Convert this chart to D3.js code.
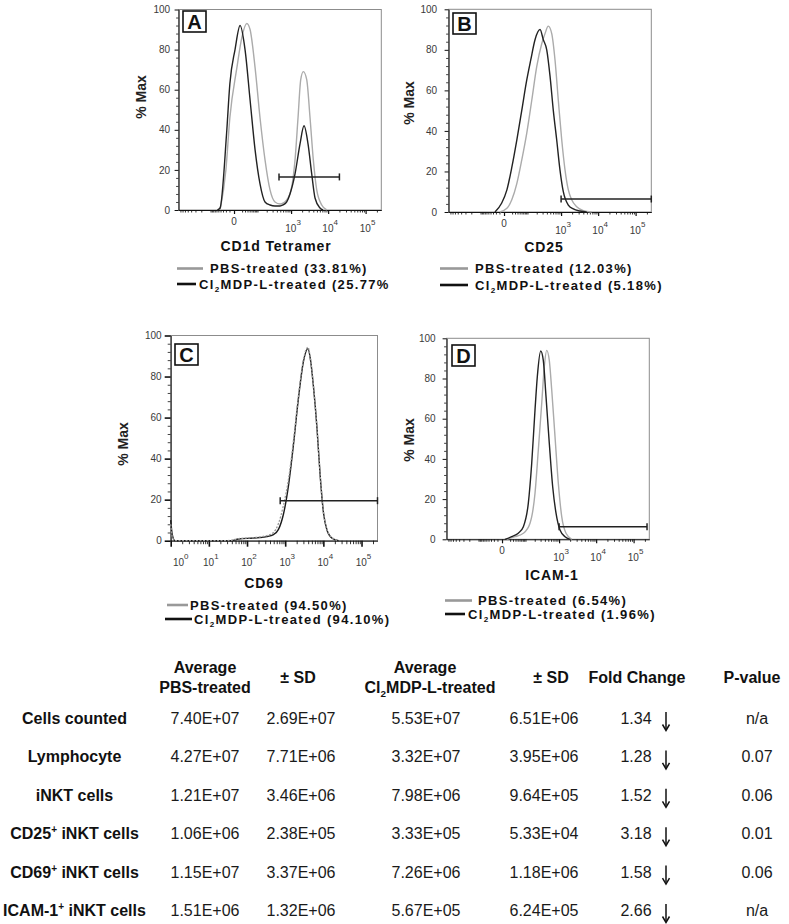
<!DOCTYPE html>
<html><head><meta charset="utf-8">
<script src="https://cdn.jsdelivr.net/npm/d3@7"></script>
<style>body{margin:0;background:#fff}svg{display:block}</style>
</head><body>
<svg id="c" width="789" height="924"></svg>
<script>
// ---------------- DATA ----------------
const yTickValues = [0, 20, 40, 60, 80, 100];
const biexTickValues = [0, 1e3, 1e4, 1e5];
const biexTickLabels = [["0", ""], ["10", "3"], ["10", "4"], ["10", "5"]];
const logTickValues = [1, 10, 100, 1e3, 1e4, 1e5];
const logTickLabels = [["10", "0"], ["10", "1"], ["10", "2"], ["10", "3"], ["10", "4"], ["10", "5"]];

// histograms: [fluorescence intensity, % Max]
const pbsA = [[-42,0],[-20,20],[-9,46],[6,71],[19,86],[37,93],[52,90],[82,71],[122,46],[177,25],[252,10],[353,4],[492,3],[757,5],[1042,11.6],[1282,25],[1547,46],[1832,65],[2155,69],[2660,65],[3268,46],[4005,25],[4942,10],[6730,2.5],[9160,0]];
const cl2A = [[-55,0],[-42,1],[-18,38],[-9,63],[2,80],[14,92],[30,80],[52,55],[82,30],[122,13],[177,4],[252,2.5],[353,2],[492,2],[597,2.5],[757,4],[933,8],[1282,18],[1752,33],[2250,42],[2884,33],[3627,18],[4450,6],[6055,1],[7290,0]];
const pbsB = [[-9,0],[6,1.8],[19,6],[37,14],[61,25.6],[94,38.8],[139,55],[200,71.7],[283,83],[353,88],[439,91.7],[549,88],[679,75],[839,55],[1042,35.5],[1282,20.7],[1578,10.9],[1947,6],[2660,2.6],[4005,0.7],[6730,0]];
const cl2B = [[-23,0],[-5,4.3],[6,10.9],[19,22],[37,35.5],[61,50],[94,65],[129,75],[177,85],[252,90],[315,85],[396,80],[492,67],[609,50],[757,35.5],[933,20.7],[1150,10],[1578,3.4],[2155,1.5],[3268,0.5],[4942,0]];
const pbsC = [[1,8],[1.1,2],[1.3,0],[30,0],[60,1],[147,1.5],[331,2.5],[493,4],[667,8.4],[902,17.3],[1222,30],[1652,49],[2234,71],[3020,88.5],[3945,94.3],[4530,89.5],[5535,75],[6790,55],[8300,31.5],[10120,13.5],[12420,5.5],[16830,1.5],[25060,0]];
const cl2C = [[1,10],[1.1,3],[1.3,0],[36,0],[60,0.8],[147,1.3],[331,2],[493,3],[667,5.5],[902,13],[1222,27],[1652,47],[2234,69.7],[3020,87.5],[3945,93.6],[4530,89],[5535,74.6],[6790,55.2],[8300,31],[10120,13.3],[12420,5.2],[16830,1.2],[25060,0]];
const pbsD = [[10,0],[38,1.3],[84,3],[142,8],[204,22.9],[257,44.4],[324,67.7],[385,85.9],[451,94],[534,89],[625,74.3],[772,51],[952,27.9],[1181,11.3],[1547,3],[2210,0]];
const cl2D = [[6,0],[25,1.3],[53,3],[84,6.3],[125,18],[161,37.8],[204,64.3],[240,81],[303,93.7],[360,89],[431,71],[534,47.8],[666,26],[823,13],[1060,4.6],[1454,1.3],[1985,0]];

// gates: [from, to, level %]
const gateA = [460, 20000, 16.5];
const gateB = [1000, 262144, 6.4];
const gateC = [740, 262144, 19.5];
const gateD = [1000, 228000, 6.3];

const panelLetters = ["A", "B", "C", "D"];
const axisTitles = ["CD1d Tetramer", "CD25", "CD69", "ICAM-1"];
const legendPBS = ["PBS-treated (33.81%)", "PBS-treated (12.03%)", "PBS-treated (94.50%)", "PBS-treated (6.54%)"];
const legendCl2 = ["Cl2MDP-L-treated (25.77%", "Cl2MDP-L-treated (5.18%)", "Cl2MDP-L-treated (94.10%)", "Cl2MDP-L-treated (1.96%)"];

// table
const rowLabels = [["Cells counted"], ["Lymphocyte"], ["iNKT cells"], ["CD25", "+", " iNKT cells"], ["CD69", "+", " iNKT cells"], ["ICAM-1", "+", " iNKT cells"]];
const avgPBS = ["7.40E+07", "4.27E+07", "1.21E+07", "1.06E+06", "1.15E+07", "1.51E+06"];
const sdPBS = ["2.69E+07", "7.71E+06", "3.46E+06", "2.38E+05", "3.37E+06", "1.32E+06"];
const avgCl2 = ["5.53E+07", "3.32E+07", "7.98E+06", "3.33E+05", "7.26E+06", "5.67E+05"];
const sdCl2 = ["6.51E+06", "3.95E+06", "9.64E+05", "5.33E+04", "1.18E+06", "6.24E+05"];
const foldChange = ["1.34", "1.28", "1.52", "3.18", "1.58", "2.66"];
const pValues = ["n/a", "0.07", "0.06", "0.01", "0.06", "n/a"];

// ---------------- LAYOUT ----------------
const FONT = '"Liberation Sans", Arial, Helvetica, sans-serif';
const svg = d3.select("#c").style("font-family", FONT);

const panels = [
  {type: "biex", left: 178.6, right: 381.3, top: 9.5, bottom: 210, pbs: pbsA, cl2: cl2A, gate: gateA,
   box: [183, 11], yTitle: [146, 97], yLabGap: 8.5, titleX: 276, titleDy: 41,
   leg: [{y: 268.5, l: [177, 203], t: 210}, {y: 284, l: [177, 196], t: 199}]},
  {type: "biex", left: 448.6, right: 651.3, top: 9.3, bottom: 212, pbs: pbsB, cl2: cl2B, gate: gateB,
   box: [453, 13], yTitle: [414, 103], yLabGap: 11.5, titleX: 544, titleDy: 40,
   leg: [{y: 268.5, l: [440, 468], t: 475}, {y: 285, l: [440, 468], t: 475}]},
  {type: "log", left: 170.7, right: 377.5, top: 335.5, bottom: 540.7, pbs: pbsC, cl2: cl2C, gate: gateC,
   box: [175, 344], yTitle: [128, 444], yLabGap: 9, titleX: 264, titleDy: 47,
   leg: [{y: 605, l: [167, 188], t: 190}, {y: 619, l: [165, 192], t: 194}]},
  {type: "biex", left: 446.6, right: 649.3, top: 338.3, bottom: 539.3, pbs: pbsD, cl2: cl2D, gate: gateD,
   box: [452, 345], yTitle: [414, 440], yLabGap: 11, titleX: 552, titleDy: 41,
   leg: [{y: 600.5, l: [445, 472], t: 478}, {y: 614, l: [445, 465], t: 468}]}
];

function richText(g, x, y, str, opts) {
  const t = g.append("text").attr("x", x).attr("y", y)
    .attr("font-size", opts.size).attr("font-weight", opts.weight || "normal")
    .attr("fill", opts.fill || "#111").attr("text-anchor", opts.anchor || "start")
    .attr("letter-spacing", opts.ls || 0);
  if (str.startsWith("Cl2")) {
    t.append("tspan").text("Cl");
    t.append("tspan").attr("dy", opts.size * 0.28).attr("font-size", opts.size * 0.62).text("2");
    t.append("tspan").attr("dy", -opts.size * 0.28).text(str.slice(3));
  } else t.text(str);
  return t;
}

panels.forEach((p, i) => {
  const g = svg.append("g");
  const x = p.type === "log"
    ? d3.scaleLog().domain([1, 262144]).range([p.left, p.right])
    : d3.scaleSymlog().constant(31).domain([-900, 262144]).range([p.left, p.right]);
  const y = d3.scaleLinear().domain([0, 100]).range([p.bottom, p.top]);

  // frame
  g.append("rect").attr("x", p.left).attr("y", p.top).attr("width", p.right - p.left)
    .attr("height", p.bottom - p.top).attr("fill", "none").attr("stroke", "#8c8c8c").attr("stroke-width", 1);

  // x minor ticks
  const minors = [];
  [1, 2, 3, 4, 5].forEach(n => { for (let k = 2; k <= 9; k++) { const v = k * Math.pow(10, n); if (v < 262144) minors.push(v); } });
  if (p.type === "log") { for (let k = 2; k <= 9; k++) minors.push(k); }
  else { [1, 2].forEach(n => { for (let k = 1; k <= 9; k++) { const v = -k * Math.pow(10, n); if (v > -900) minors.push(v); } }); minors.push(100); }
  const isLog = p.type === "log";
  g.append("g").attr("transform", `translate(0,${p.bottom})`)
    .call(d3.axisBottom(x).tickValues(minors).tickSize(isLog ? 3.5 : 2.5).tickSizeOuter(0).tickFormat(""))
    .call(a => a.select(".domain").remove()).selectAll("line").attr("stroke", "#333");
  const majors = isLog ? logTickValues : biexTickValues;
  g.append("g").attr("transform", `translate(0,${p.bottom})`)
    .call(d3.axisBottom(x).tickValues(majors).tickSize(isLog ? 6 : 4).tickSizeOuter(0).tickFormat(""))
    .call(a => a.select(".domain").attr("stroke", "#111"))
    .selectAll("line").attr("stroke", "#111").attr("stroke-width", isLog ? 1.6 : 1.2);

  // y ticks
  const yMinor = d3.range(0, 101, 4).filter(v => v % 20 !== 0);
  g.append("g").attr("transform", `translate(${p.left},0)`)
    .call(d3.axisLeft(y).tickValues(yMinor).tickSize(isLog ? 3 : 2.5).tickSizeOuter(0).tickFormat(""))
    .call(a => a.select(".domain").remove()).selectAll("line").attr("stroke", "#444");
  g.append("g").attr("transform", `translate(${p.left},0)`)
    .call(d3.axisLeft(y).tickValues(yTickValues).tickSize(isLog ? 6 : 4).tickSizeOuter(0).tickFormat(""))
    .call(a => a.select(".domain").attr("stroke", "#111"))
    .selectAll("line").attr("stroke", "#111").attr("stroke-width", isLog ? 1.6 : 1);

  // y tick labels
  yTickValues.forEach(v => {
    g.append("text").attr("x", p.left - p.yLabGap).attr("y", y(v) + 3.6)
      .attr("text-anchor", "end").attr("font-size", 10).attr("fill", "#3a3a3a").text(v);
  });

  // x tick labels
  const labs = isLog ? logTickLabels : biexTickLabels;
  majors.forEach((v, j) => {
    const [base, sup] = labs[j];
    let cx = x(v);
    if (isLog && j === 0) cx += 8;
    if (!sup) {
      g.append("text").attr("x", cx).attr("y", p.bottom + 15).attr("text-anchor", "middle")
        .attr("font-size", 10).attr("fill", "#3a3a3a").text(base);
    } else {
      const by = p.bottom + (isLog ? 25 : 22);
      const t = g.append("text").attr("x", cx + 2).attr("y", by).attr("text-anchor", "middle")
        .attr("font-size", 10).attr("fill", "#3a3a3a");
      t.append("tspan").text(base);
      t.append("tspan").attr("dy", -7).attr("font-size", 8).text(sup);
    }
  });

  // histograms
  const line = d3.line().x(d => x(d[0])).y(d => y(d[1])).curve(d3.curveMonotoneX);
  if (isLog) {
    g.append("path").datum(p.cl2).attr("d", line).attr("fill", "none").attr("stroke", "#1c1c1c").attr("stroke-width", 1.4);
    g.append("path").datum(p.pbs).attr("d", line).attr("fill", "none").attr("stroke", "#9a9a9a").attr("stroke-width", 1.3).attr("stroke-dasharray", "2,1.5");
  } else {
    g.append("path").datum(p.pbs).attr("d", line).attr("fill", "none").attr("stroke", "#ababab").attr("stroke-width", 1.4);
    g.append("path").datum(p.cl2).attr("d", line).attr("fill", "none").attr("stroke", "#222").attr("stroke-width", 1.4);
  }

  // gate
  const [g0, g1, gl] = p.gate;
  const gy = y(gl);
  g.append("line").attr("x1", x(g0)).attr("x2", x(g1)).attr("y1", gy).attr("y2", gy).attr("stroke", "#222").attr("stroke-width", 1.5);
  [g0, g1].forEach(v => g.append("line").attr("x1", x(v)).attr("x2", x(v)).attr("y1", gy - 3.5).attr("y2", gy + 3.5).attr("stroke", "#222").attr("stroke-width", 1.5));

  // letter box
  g.append("rect").attr("x", p.box[0]).attr("y", p.box[1]).attr("width", 23).attr("height", 21)
    .attr("fill", "#fff").attr("stroke", "#111").attr("stroke-width", 1.6);
  g.append("text").attr("x", p.box[0] + 11.5).attr("y", p.box[1] + 18).attr("text-anchor", "middle")
    .attr("font-size", 20).attr("font-weight", "bold").attr("fill", "#111").text(panelLetters[i]);

  // y title
  g.append("text").attr("transform", `translate(${p.yTitle[0]},${p.yTitle[1]}) rotate(-90)`)
    .attr("text-anchor", "middle").attr("font-size", 14).attr("font-weight", "bold").attr("fill", "#222").text("% Max");

  // x title
  g.append("text").attr("x", p.titleX).attr("y", p.bottom + p.titleDy).attr("text-anchor", "middle")
    .attr("font-size", 14).attr("font-weight", "bold").attr("letter-spacing", 0.9).attr("fill", "#111").text(axisTitles[i]);

  // legend
  const legTexts = [legendPBS[i], legendCl2[i]];
  const legCols = ["#999", "#111"];
  p.leg.forEach((r, k) => {
    g.append("line").attr("x1", r.l[0]).attr("x2", r.l[1]).attr("y1", r.y).attr("y2", r.y)
      .attr("stroke", legCols[k]).attr("stroke-width", 2.6);
    richText(g, r.t, r.y + 4.6, legTexts[k], {size: 13, weight: "bold", ls: 1.35, fill: "#111"});
  });
});

// ---------------- TABLE ----------------
const tg = svg.append("g");
const colKeys = ["label", "avgPBS", "sdPBS", "avgCl2", "sdCl2", "fold", "p"];
const colX = d3.scaleOrdinal().domain(colKeys).range([74.5, 205, 301, 426, 544, 636, 757]);
const rowY = d3.scalePoint().domain(d3.range(rowLabels.length)).range([724, 916]);

// headers
function hdr(x, y, str) { richText(tg, x, y, str, {size: 16, weight: "bold", anchor: "middle", fill: "#111"}); }
hdr(205, 672.5, "Average"); hdr(205, 692.5, "PBS-treated");
hdr(298, 683, "± SD");
hdr(425, 672.5, "Average"); hdr(430, 692.5, "Cl2MDP-L-treated");
hdr(551, 683, "± SD");
hdr(637, 683, "Fold Change");
hdr(752, 683, "P-value");

rowLabels.forEach((parts, r) => {
  const yy = rowY(r);
  const t = tg.append("text").attr("x", colX("label")).attr("y", yy).attr("text-anchor", "middle")
    .attr("font-size", 16).attr("font-weight", "bold").attr("fill", "#111");
  t.append("tspan").text(parts[0]);
  if (parts.length > 1) {
    t.append("tspan").attr("dy", -6).attr("font-size", 10).text(parts[1]);
    t.append("tspan").attr("dy", 6).text(parts[2]);
  }
  const cells = [["avgPBS", avgPBS[r]], ["sdPBS", sdPBS[r]], ["avgCl2", avgCl2[r]], ["sdCl2", sdCl2[r]], ["fold", foldChange[r]], ["p", pValues[r]]];
  cells.forEach(([k, v]) => {
    tg.append("text").attr("x", colX(k)).attr("y", yy).attr("text-anchor", "middle")
      .attr("font-size", 16).attr("fill", "#1a1a1a").text(v);
  });
  // down arrow
  const ax = colX("fold") + 30;
  tg.append("line").attr("x1", ax).attr("x2", ax).attr("y1", yy - 12).attr("y2", yy + 5)
    .attr("stroke", "#111").attr("stroke-width", 1.5);
  tg.append("path").attr("d", `M${ax - 3.5},${yy + 0.5} L${ax},${yy + 6.5} L${ax + 3.5},${yy + 0.5}`)
    .attr("fill", "none").attr("stroke", "#111").attr("stroke-width", 1.5);
});
</script>
</body></html>
